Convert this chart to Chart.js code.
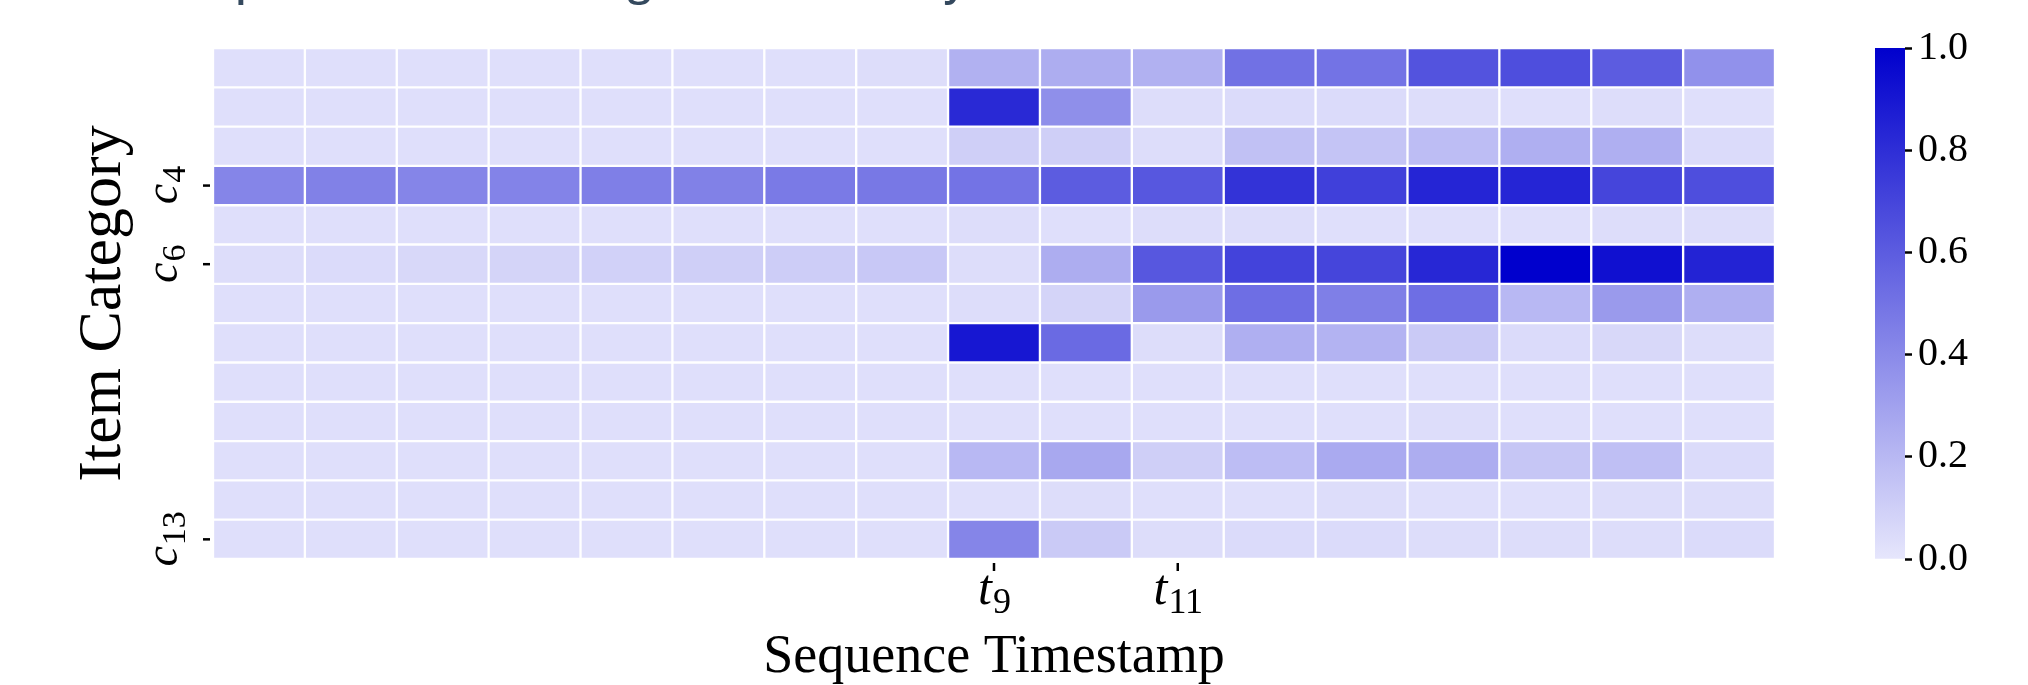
<!DOCTYPE html>
<html>
<head>
<meta charset="utf-8">
<script src="https://cdn.jsdelivr.net/npm/chart.js@4.4.0/dist/chart.umd.min.js"></script>
<style>
  body { margin: 0; background: #fff; }
  #wrap { position: relative; width: 2028px; height: 685px; overflow: hidden; }
  canvas { position: absolute; top: 0; }
</style>
</head>
<body>
<div id="wrap">
  <canvas id="heat" width="2028" height="685" style="left:0"></canvas>
  <canvas id="bar" width="228" height="685" style="left:1800px"></canvas>
</div>
<script>
// rows = item categories, columns = sequence timestamps
const timestamps = ['t1','t2','t3','t4','t5','t6','t7','t8','t9','t10','t11','t12','t13','t14','t15','t16','t17'];
const categories = ['c1','c2','c3','c4','c5','c6','c7','c8','c9','c10','c11','c12','c13'];

const c1  = [0.03,0.03,0.03,0.03,0.03,0.03,0.03,0.04, 0.23,0.25,0.23,0.51,0.50,0.64,0.66,0.60,0.37];
const c2  = [0.03,0.03,0.03,0.03,0.03,0.03,0.03,0.03, 0.82,0.38,0.04,0.05,0.05,0.04,0.03,0.04,0.03];
const c3  = [0.03,0.03,0.03,0.03,0.03,0.03,0.03,0.03, 0.10,0.10,0.04,0.16,0.15,0.18,0.24,0.24,0.05];
const c4  = [0.42,0.44,0.42,0.43,0.45,0.44,0.47,0.48, 0.50,0.60,0.62,0.78,0.72,0.84,0.84,0.70,0.66];
const c5  = [0.03,0.03,0.03,0.03,0.03,0.03,0.03,0.03, 0.04,0.03,0.04,0.04,0.03,0.03,0.03,0.04,0.04];
const c6  = [0.04,0.05,0.06,0.08,0.09,0.10,0.11,0.13, 0.04,0.25,0.62,0.71,0.70,0.83,1.00,0.93,0.85];
const c7  = [0.03,0.03,0.03,0.03,0.03,0.03,0.03,0.03, 0.04,0.08,0.33,0.52,0.45,0.52,0.20,0.33,0.24];
const c8  = [0.03,0.03,0.03,0.03,0.03,0.03,0.03,0.03, 0.90,0.54,0.04,0.24,0.22,0.12,0.05,0.06,0.04];
const c9  = [0.03,0.03,0.03,0.03,0.03,0.03,0.03,0.03, 0.03,0.03,0.03,0.03,0.03,0.03,0.03,0.03,0.03];
const c10 = [0.03,0.03,0.03,0.03,0.03,0.03,0.03,0.03, 0.03,0.03,0.03,0.03,0.03,0.04,0.03,0.03,0.03];
const c11 = [0.03,0.03,0.03,0.03,0.03,0.03,0.03,0.03, 0.20,0.27,0.10,0.18,0.26,0.25,0.14,0.17,0.05];
const c12 = [0.03,0.03,0.03,0.03,0.03,0.03,0.03,0.03, 0.03,0.04,0.03,0.03,0.04,0.03,0.03,0.04,0.04];
const c13 = [0.03,0.03,0.03,0.03,0.03,0.03,0.03,0.03, 0.42,0.12,0.04,0.05,0.05,0.04,0.04,0.04,0.05];
const weights = [c1,c2,c3,c4,c5,c6,c7,c8,c9,c10,c11,c12,c13];

const xTicks = ['t9','t11'];
const yTicks = ['c4','c6','c13'];
const cbMin = 0, cbMax = 1, cbStep = 0.2;

// the original title is cropped at the top edge, only its descenders show
const title = 'Example of interest change within history';
const xTitle = 'Sequence Timestamp';
const yTitle = 'Item Category';

const LIGHT = [230, 230, 252];
const DARK = [0, 0, 205];
function colorFor(v) {
    const c = LIGHT.map((l, i) => Math.round(l + (DARK[i] - l) * v));
    return 'rgb(' + c.join(',') + ')';
}

const SERIF = '"Liberation Serif", "Times New Roman", serif';

// label like c_4 : italic letter + smaller upright subscript
function subLabel(ctx, text, x, y, rotate, size, subSize, drop) {
    const base = text[0], sub = text.slice(1);
    ctx.save();
    ctx.translate(x, y);
    if (rotate) ctx.rotate(-Math.PI / 2);
    ctx.font = 'italic ' + size + 'px ' + SERIF;
    const w1 = ctx.measureText(base).width;
    ctx.font = subSize + 'px ' + SERIF;
    const w2 = ctx.measureText(sub).width;
    const x0 = -(w1 + w2) / 2;
    ctx.textBaseline = 'alphabetic';
    ctx.textAlign = 'left';
    ctx.fillStyle = '#000';
    ctx.font = 'italic ' + size + 'px ' + SERIF;
    ctx.fillText(base, x0, 0);
    ctx.font = subSize + 'px ' + SERIF;
    ctx.fillText(sub, x0 + w1 + 1, drop);
    ctx.restore();
}

const labelsPlugin = {
    id: 'labels',
    afterDraw(chart) {
        const ctx = chart.ctx;
        const area = chart.chartArea;
        const xs = chart.scales.x, ys = chart.scales.y;
        ctx.save();
        ctx.strokeStyle = '#000';
        ctx.lineWidth = 2.5;

        yTicks.forEach(lab => {
            const y = ys.getPixelForValue(categories.indexOf(lab));
            ctx.beginPath();
            ctx.moveTo(area.left - 10, y);
            ctx.lineTo(area.left - 3, y);
            ctx.stroke();
            subLabel(ctx, lab, 177, y, true, 46, 34, 8);
        });

        xTicks.forEach(lab => {
            const x = xs.getPixelForValue(timestamps.indexOf(lab) + 0.5);
            ctx.beginPath();
            ctx.moveTo(x, area.bottom + 4);
            ctx.lineTo(x, area.bottom + 12);
            ctx.stroke();
            subLabel(ctx, lab, x, area.bottom + 45, false, 50, 36, 9);
        });

        ctx.fillStyle = '#000';
        ctx.textAlign = 'center';
        ctx.font = '54px ' + SERIF;
        ctx.textBaseline = 'alphabetic';
        ctx.fillText(xTitle, (area.left + area.right) / 2, 672);

        ctx.save();
        ctx.translate(120, (area.top + area.bottom) / 2);
        ctx.rotate(-Math.PI / 2);
        ctx.font = '62px ' + SERIF;
        ctx.textBaseline = 'alphabetic';
        ctx.fillText(yTitle, 0, 0);
        ctx.restore();

        ctx.font = '600 42px "Open Sans", sans-serif';
        ctx.fillStyle = '#34495e';
        ctx.textAlign = 'left';
        ctx.textBaseline = 'alphabetic';
        const tx = 239 - ctx.measureText('Exam').width - 4;
        ctx.fillText(title, tx, -5);
        ctx.restore();
    }
};

new Chart(document.getElementById('heat'), {
    type: 'bar',
    data: {
        labels: categories,
        datasets: timestamps.map((t, j) => ({
            label: t,
            data: categories.map(() => 1),
            backgroundColor: categories.map((c, i) => colorFor(weights[i][j])),
            borderColor: '#ffffff',
            borderWidth: 1.5,
            borderSkipped: false,
            categoryPercentage: 1,
            barPercentage: 1
        }))
    },
    options: {
        indexAxis: 'y',
        responsive: false,
        animation: false,
        layout: { padding: { left: 213, right: 253, top: 48, bottom: 126 } },
        plugins: { legend: { display: false }, tooltip: { enabled: false } },
        scales: {
            x: { stacked: true, min: 0, max: timestamps.length, display: false },
            y: { stacked: true, display: false }
        }
    },
    plugins: [labelsPlugin]
});

// colour bar
new Chart(document.getElementById('bar'), {
    type: 'bar',
    data: {
        labels: ['scale'],
        datasets: [{
            data: [[cbMin, cbMax]],
            backgroundColor: ctx => {
                const area = ctx.chart.chartArea;
                if (!area) return colorFor(0.5);
                const g = ctx.chart.ctx.createLinearGradient(0, area.bottom, 0, area.top);
                g.addColorStop(0, colorFor(0));
                g.addColorStop(1, colorFor(1));
                return g;
            },
            borderWidth: 0,
            categoryPercentage: 1,
            barPercentage: 1
        }]
    },
    options: {
        responsive: false,
        animation: false,
        layout: { padding: { left: 75, right: 0, top: 48, bottom: 126 } },
        plugins: { legend: { display: false }, tooltip: { enabled: false } },
        scales: {
            x: { display: false },
            y: {
                position: 'right',
                min: cbMin,
                max: cbMax,
                afterFit(scale) { scale.width = 123; },
                border: { display: false },
                grid: { drawOnChartArea: false, drawTicks: true, tickLength: 7, tickWidth: 2.5, tickColor: '#000' },
                ticks: {
                    stepSize: cbStep,
                    padding: 6,
                    color: '#000',
                    font: { family: SERIF, size: 40 },
                    callback: v => v.toFixed(1)
                }
            }
        }
    }
});
</script>
</body>
</html>
